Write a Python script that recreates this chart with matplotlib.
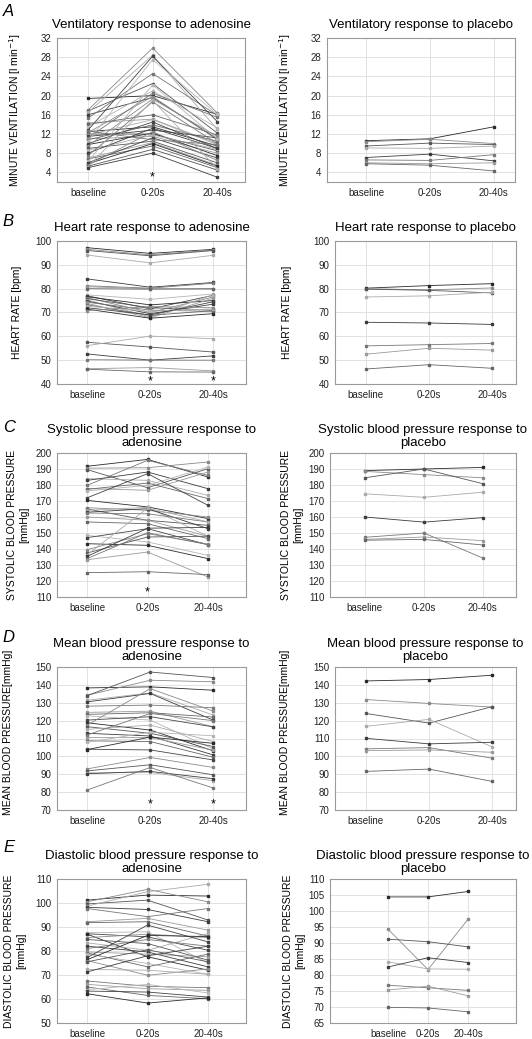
import matplotlib
matplotlib.use('Agg')
import matplotlib.pyplot as plt

plt.rcParams['font.family'] = ['Liberation Sans', 'DejaVu Sans']

# time points
labels = ['baseline', '0-20s', '20-40s']

# A - minute ventilation, adenosine
vent_base = [19.4, 17.0, 16.8, 16.5, 16.0, 15.3, 14.3, 14.0, 13.5, 12.8, 12.5, 12.3, 12.0, 11.8, 11.5, 11.2, 11.0, 10.8,
             10.5, 10.0, 9.8, 9.5, 9.0, 8.6, 8.0, 7.5, 7.0, 6.8, 6.3, 6.0, 5.8, 5.5, 5.3, 5.2, 5.0, 12.6]
vent_early = [20.0, 29.9, 22.5, 28.4, 19.6, 24.6, 15.1, 16.0, 21.0, 28.2, 13.5, 19.8, 12.0, 15.0, 12.8, 20.5, 11.5, 13.9,
              27.5, 14.5, 12.2, 19.3, 10.5, 11.8, 13.2, 18.7, 10.2, 9.5, 22.2, 11.2, 10.0, 12.5, 8.8, 19.0, 8.0, 10.8]
vent_late = [16.1, 16.4, 12.2, 13.0, 11.0, 15.9, 10.0, 11.8, 13.3, 14.6, 9.5, 10.8, 8.5, 9.8, 11.2, 15.5, 8.0, 10.5,
             16.1, 9.0, 7.5, 11.5, 6.0, 8.8, 9.0, 10.0, 5.5, 5.0, 11.0, 7.0, 5.3, 6.5, 4.5, 4.8, 3.0, 9.8]
# A - placebo
vent_pl_base = [10.6, 10.4, 9.5, 9.1, 7.1, 6.6, 6.0, 5.8]
vent_pl_early = [11.0, 10.9, 10.1, 9.0, 7.8, 6.5, 5.8, 5.5]
vent_pl_late = [13.5, 10.0, 9.8, 9.5, 6.4, 7.7, 6.0, 4.3]

# B - heart rate
hr_base = [97.2, 96.5, 96.0, 94.1, 84.1, 81.2, 80.8, 80.0, 77.4, 77.0, 76.6, 76.2, 75.8, 75.3, 74.8, 74.3, 73.8, 73.2,
           72.6, 72.0, 71.4, 70.8, 57.5, 56.1, 52.6, 50.2, 46.4, 46.2]
hr_early = [94.8, 94.2, 93.8, 90.8, 80.6, 80.2, 80.0, 79.8, 75.5, 71.5, 73.2, 70.0, 72.0, 68.2, 69.5, 71.0, 67.8, 68.8,
            70.5, 69.0, 67.6, 72.5, 55.5, 60.1, 50.0, 50.0, 46.9, 45.1]
hr_late = [96.5, 96.2, 96.0, 94.0, 82.6, 82.3, 79.8, 80.0, 77.8, 77.2, 75.0, 76.5, 71.0, 77.5, 73.5, 70.5, 76.0, 70.8,
           71.5, 74.5, 69.5, 72.0, 53.4, 59.0, 51.8, 50.0, 45.5, 45.0]
hr_pl_base = [80.2, 80.0, 79.8, 76.5, 65.9, 56.0, 52.5, 46.3]
hr_pl_early = [81.3, 79.5, 79.3, 77.0, 65.6, 56.5, 55.0, 48.1]
hr_pl_late = [82.1, 80.3, 78.2, 78.5, 65.0, 57.0, 54.2, 46.6]

# C - systolic blood pressure
sbp_base = [191.7, 190.5, 189.6, 184.0, 182.9, 179.8, 177.8, 177.3, 176.3, 172.0, 170.4, 165.8, 165.0, 164.2, 163.0,
            162.5, 160.0, 156.9, 148.5, 147.1, 143.3, 139.6, 137.5, 136.5, 135.4, 134.0, 133.3, 125.2]
sbp_early = [196.0, 190.8, 178.3, 182.9, 188.1, 195.4, 176.7, 181.2, 179.8, 187.1, 166.3, 164.2, 157.9, 166.0, 165.2,
             162.0, 158.0, 155.8, 144.4, 152.7, 142.3, 149.6, 147.5, 165.5, 153.0, 150.2, 138.1, 125.8]
sbp_late = [185.0, 194.4, 190.2, 173.5, 177.7, 186.0, 188.1, 171.5, 191.2, 167.3, 159.0, 160.0, 154.8, 148.0, 152.7,
            156.9, 147.9, 146.5, 136.0, 142.7, 134.0, 143.0, 148.0, 157.0, 153.5, 142.7, 122.5, 124.0]
sbp_pl_base = [189.0, 188.5, 184.5, 174.5, 160.0, 147.3, 146.0, 145.5]
sbp_pl_early = [190.0, 186.5, 190.0, 172.3, 156.8, 150.0, 147.5, 146.0]
sbp_pl_late = [191.0, 184.5, 180.8, 175.5, 159.6, 134.3, 145.2, 142.5]

# D - mean blood pressure
mbp_base = [138.3, 134.2, 134.0, 131.4, 130.5, 128.1, 124.6, 123.5, 122.7, 120.3, 118.8, 117.5, 116.6, 115.1, 112.9,
            112.0, 110.5, 108.7, 107.9, 104.0, 103.8, 93.0, 91.9, 90.8, 90.3, 81.2]
mbp_early = [138.9, 142.6, 147.2, 135.5, 135.2, 128.7, 125.3, 124.4, 120.3, 122.2, 114.7, 137.9, 112.9, 117.5, 111.4,
             124.0, 110.5, 108.3, 113.5, 103.6, 110.8, 99.4, 95.3, 91.0, 91.6, 93.8]
mbp_late = [137.0, 141.7, 144.1, 123.1, 120.3, 127.2, 116.6, 122.0, 104.2, 116.5, 103.1, 125.3, 105.5, 108.3, 100.8,
            120.0, 103.5, 99.5, 111.5, 98.0, 107.3, 93.8, 89.7, 86.4, 87.5, 82.3]
mbp_pl_base = [142.2, 131.8, 124.0, 116.8, 110.1, 104.2, 103.2, 91.6]
mbp_pl_early = [143.0, 129.6, 118.6, 120.7, 107.0, 104.9, 103.6, 92.9]
mbp_pl_late = [145.4, 127.6, 127.8, 105.3, 107.9, 99.0, 102.3, 86.0]

# E - diastolic blood pressure
dbp_base = [101.2, 100.5, 99.6, 98.7, 98.2, 97.7, 92.2, 91.8, 87.6, 87.2, 87.0, 85.6, 84.8, 83.4, 82.0, 81.0, 79.6,
            79.2, 78.7, 77.3, 76.4, 76.0, 75.5, 72.3, 71.3, 67.5, 66.1, 65.0, 63.9, 63.3, 62.2]
dbp_early = [103.3, 105.7, 101.2, 104.7, 97.3, 94.3, 93.6, 92.2, 88.0, 85.9, 77.6, 87.0, 83.1, 80.3, 79.6, 84.8, 78.7,
             73.4, 74.8, 90.8, 86.5, 69.9, 80.5, 72.0, 78.0, 65.3, 64.3, 61.5, 66.1, 62.9, 58.3]
dbp_late = [102.9, 100.5, 92.9, 107.8, 92.2, 97.7, 88.7, 86.2, 75.0, 80.3, 72.0, 85.6, 76.2, 87.3, 73.4, 82.0, 77.6,
            78.7, 70.3, 83.8, 86.0, 72.5, 75.5, 70.3, 82.0, 64.7, 63.6, 60.1, 62.5, 60.8, 60.5]
dbp_pl_base = [104.4, 94.3, 91.2, 84.1, 82.5, 76.8, 75.3, 69.9]
dbp_pl_early = [104.4, 81.7, 90.4, 81.9, 85.4, 76.0, 76.5, 69.7]
dbp_pl_late = [106.1, 97.4, 88.8, 81.8, 83.9, 75.2, 73.5, 68.5]

W, H = 532, 1039
fig = plt.figure(figsize=(W / 100, H / 100), dpi=100)

shades = ['#2a2a2a', '#8a8a8a', '#555555', '#aaaaaa', '#3c3c3c', '#777777', '#9a9a9a', '#666666', '#b5b5b5', '#444444']


def make_ax(L, R, T, B, xl, xr, ylim, yticks):
    ax = fig.add_axes([L / W, 1 - B / H, (R - L) / W, (B - T) / H])
    ax.set_xlim(xl, xr)
    ax.set_ylim(*ylim)
    ax.set_xticks([1, 2, 3])
    ax.set_xticklabels(labels)
    ax.set_yticks(yticks)
    ax.tick_params(length=0, labelsize=7, pad=4, colors='#222222')
    ax.grid(True, color='#dddddd', lw=0.6)
    ax.set_axisbelow(True)
    for s in ax.spines.values():
        s.set_color('#9a9a9a')
        s.set_linewidth(0.8)
    return ax


def draw(ax, base, early, late):
    for i, (a, b, c) in enumerate(zip(base, early, late)):
        col = shades[i % len(shades)]
        ax.plot([1, 2, 3], [a, b, c], color=col, lw=0.6, marker='s', ms=1.6, mec=col, mfc=col)


def stars(ax, xs, y):
    for x in xs:
        ax.text(x, y, '*', ha='center', va='center', fontsize=9)


tfs = 9.5

# row A
ax = make_ax(57, 245, 38, 182, 0.52, 3.43, (2, 32), range(4, 33, 4))
draw(ax, vent_base, vent_early, vent_late)
ax.set_title('Ventilatory response to adenosine', fontsize=tfs, pad=7)
stars(ax, [2], 3.0)
ax = make_ax(327, 515, 38, 182, 0.39, 3.33, (2, 32), range(4, 33, 4))
draw(ax, vent_pl_base, vent_pl_early, vent_pl_late)
ax.set_title('Ventilatory response to placebo', fontsize=tfs, pad=7)

# row B
ax = make_ax(57, 246, 241, 384, 0.52, 3.52, (40, 100), range(40, 101, 10))
draw(ax, hr_base, hr_early, hr_late)
ax.set_title('Heart rate response to adenosine', fontsize=tfs, pad=7)
stars(ax, [2, 3], 41.2)
ax = make_ax(335, 516, 241, 384, 0.51, 3.38, (40, 100), range(40, 101, 10))
draw(ax, hr_pl_base, hr_pl_early, hr_pl_late)
ax.set_title('Heart rate response to placebo', fontsize=tfs, pad=7)

# row C
ax = make_ax(57, 246, 453, 597, 0.5, 3.63, (110, 200), range(110, 201, 10))
draw(ax, sbp_base, sbp_early, sbp_late)
ax.set_title('Systolic blood pressure response to\nadenosine', fontsize=tfs, pad=5, linespacing=1.1)
stars(ax, [2], 113)
ax = make_ax(330, 516, 453, 597, 0.41, 3.56, (110, 200), range(110, 201, 10))
draw(ax, sbp_pl_base, sbp_pl_early, sbp_pl_late)
ax.set_title('Systolic blood pressure response to\nplacebo', fontsize=tfs, pad=5, linespacing=1.1)

# row D
ax = make_ax(57, 246, 667, 810, 0.52, 3.52, (70, 150), range(70, 151, 10))
draw(ax, mbp_base, mbp_early, mbp_late)
ax.set_title('Mean blood pressure response to\nadenosine', fontsize=tfs, pad=5, linespacing=1.1)
stars(ax, [2, 3], 73)
ax = make_ax(335, 516, 667, 810, 0.51, 3.38, (70, 150), range(70, 151, 10))
draw(ax, mbp_pl_base, mbp_pl_early, mbp_pl_late)
ax.set_title('Mean blood pressure response to\nplacebo', fontsize=tfs, pad=5, linespacing=1.1)

# row E
ax = make_ax(57, 246, 879, 1023, 0.5, 3.63, (50, 110), range(50, 111, 10))
draw(ax, dbp_base, dbp_early, dbp_late)
ax.set_title('Diastolic blood pressure response to\nadenosine', fontsize=tfs, pad=5, linespacing=1.1)
ax = make_ax(330, 516, 879, 1023, -0.45, 4.2, (65, 110), range(65, 111, 5))
draw(ax, dbp_pl_base, dbp_pl_early, dbp_pl_late)
ax.set_title('Diastolic blood pressure response to\nplacebo', fontsize=tfs, pad=5, linespacing=1.1)

# y labels
ylab = [
    (15, 110, 'MINUTE VENTILATION [l min$^{-1}$]'), (285, 110, 'MINUTE VENTILATION [l min$^{-1}$]'),
    (17, 312, 'HEART RATE [bpm]'), (287, 312, 'HEART RATE [bpm]'),
    (18, 525, 'SYSTOLIC BLOOD PRESSURE\n[mmHg]'), (292, 525, 'SYSTOLIC BLOOD PRESSURE\n[mmHg]'),
    (8, 732, 'MEAN BLOOD PRESSURE[mmHg]'), (285, 732, 'MEAN BLOOD PRESSURE[mmHg]'),
    (15, 951, 'DIASTOLIC BLOOD PRESSURE\n[mmHg]'), (294, 951, 'DIASTOLIC BLOOD PRESSURE\n[mmHg]'),
]
for x, y, t in ylab:
    fig.text(x / W, 1 - y / H, t, rotation=90, ha='center', va='center', fontsize=7.5,
             multialignment='center', linespacing=1.2)

# panel letters
for x, y, t in [(8, 12, 'A'), (8, 222, 'B'), (9, 428, 'C'), (8, 638, 'D'), (9, 848, 'E')]:
    fig.text(x / W, 1 - y / H, t, fontsize=12, style='italic', ha='center', va='center')

fig.savefig('out.png', dpi=100, facecolor='white')
